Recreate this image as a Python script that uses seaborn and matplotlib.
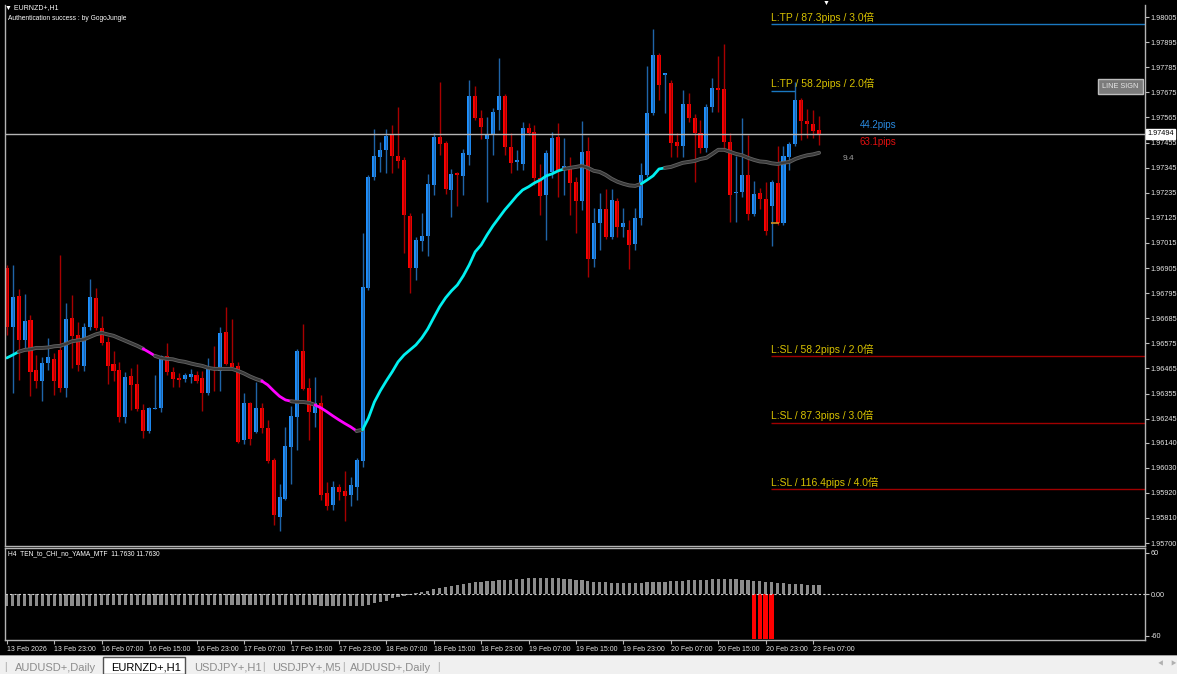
import numpy as np
import pandas as pd
import matplotlib
matplotlib.use("Agg")
import matplotlib.pyplot as plt
import matplotlib.patheffects as pe
from matplotlib.patches import Rectangle
import seaborn as sns

# EURNZD+ H1 candles, bar 0 = 13 Feb 15:00
opens = [1.96906, 1.96647, 1.96783, 1.96590, 1.96678, 1.96459, 1.96410, 1.96489, 1.96507, 1.96546,
         1.96380, 1.96687, 1.96612, 1.96476, 1.96647, 1.96774, 1.96643, 1.96581, 1.96485, 1.96459,
         1.96253, 1.96432, 1.96397, 1.96283, 1.96191, 1.96288, 1.96292, 1.96520, 1.96450, 1.96424,
         1.96419, 1.96428, 1.96437, 1.96424, 1.96358, 1.96472, 1.96454, 1.96625, 1.96489, 1.96476,
         1.96152, 1.96314, 1.96187, 1.96292, 1.96205, 1.96064, 1.95815, 1.95893, 1.96121, 1.96253,
         1.96542, 1.96380, 1.96270, 1.96314, 1.95920, 1.95867, 1.95946, 1.95928, 1.95911, 1.95946,
         1.96060, 1.96818, 1.97304, 1.97392, 1.97423, 1.97488, 1.97396, 1.97379, 1.97134, 1.96906,
         1.97024, 1.97046, 1.97269, 1.97480, 1.97453, 1.97247, 1.97322, 1.97309, 1.97401, 1.97659,
         1.97563, 1.97471, 1.97493, 1.97598, 1.97659, 1.97436, 1.97370, 1.97361, 1.97519, 1.97502,
         1.97300, 1.97226, 1.97326, 1.97480, 1.97335, 1.97344, 1.97283, 1.97199, 1.97418, 1.96945,
         1.97103, 1.97164, 1.97041, 1.97199, 1.97085, 1.97072, 1.97011, 1.97125, 1.97313, 1.97585,
         1.97839, 1.97751, 1.97716, 1.97458, 1.97440, 1.97624, 1.97563, 1.97497, 1.97431, 1.97611,
         1.97694, 1.97690, 1.97458, 1.97234, 1.97239, 1.97313, 1.97142, 1.97234, 1.97208, 1.97177,
         1.97278, 1.97103, 1.97392, 1.97449, 1.97642, 1.97550, 1.97537, 1.97510]
highs = [1.96919, 1.96919, 1.96814, 1.96792, 1.96700, 1.96524, 1.96516, 1.96599, 1.96533, 1.96963,
         1.96752, 1.96787, 1.96669, 1.96665, 1.96857, 1.96818, 1.96695, 1.96603, 1.96542, 1.96494,
         1.96450, 1.96467, 1.96485, 1.96310, 1.96297, 1.96437, 1.96524, 1.96577, 1.96472, 1.96446,
         1.96446, 1.96463, 1.96454, 1.96454, 1.96511, 1.96564, 1.96647, 1.96735, 1.96682, 1.96494,
         1.96358, 1.96318, 1.96406, 1.96314, 1.96240, 1.96073, 1.95959, 1.96209, 1.96301, 1.96551,
         1.96660, 1.96424, 1.96428, 1.96349, 1.95968, 1.95972, 1.95959, 1.96016, 1.95990, 1.96073,
         1.97059, 1.97313, 1.97515, 1.97458, 1.97515, 1.97532, 1.97611, 1.97392, 1.97147, 1.97041,
         1.97147, 1.97318, 1.97497, 1.97721, 1.97462, 1.97339, 1.97326, 1.97427, 1.97729, 1.97703,
         1.97598, 1.97567, 1.97607, 1.97826, 1.97668, 1.97497, 1.97423, 1.97545, 1.97541, 1.97532,
         1.97361, 1.97423, 1.97502, 1.97541, 1.97475, 1.97392, 1.97304, 1.97550, 1.97480, 1.97169,
         1.97234, 1.97252, 1.97252, 1.97212, 1.97169, 1.97116, 1.97169, 1.97366, 1.97791, 1.97953,
         1.97848, 1.97760, 1.97729, 1.97497, 1.97686, 1.97672, 1.97580, 1.97554, 1.97624, 1.97738,
         1.97835, 1.97887, 1.97497, 1.97396, 1.97563, 1.97488, 1.97287, 1.97256, 1.97283, 1.97291,
         1.97440, 1.97440, 1.97458, 1.97721, 1.97651, 1.97602, 1.97598, 1.97572]
lows = [1.96612, 1.96358, 1.96415, 1.96546, 1.96345, 1.96380, 1.96323, 1.96459, 1.96349, 1.96362,
        1.96340, 1.96467, 1.96454, 1.96454, 1.96634, 1.96634, 1.96568, 1.96397, 1.96410, 1.96231,
        1.96226, 1.96283, 1.96279, 1.96161, 1.96183, 1.96288, 1.96275, 1.96437, 1.96384, 1.96384,
        1.96406, 1.96402, 1.96402, 1.96279, 1.96349, 1.96367, 1.96367, 1.96481, 1.96467, 1.96139,
        1.96134, 1.96130, 1.96183, 1.96183, 1.96051, 1.95779, 1.95753, 1.95889, 1.95959, 1.96108,
        1.96371, 1.96152, 1.96209, 1.95889, 1.95845, 1.95845, 1.95889, 1.95797, 1.95863, 1.95889,
        1.96034, 1.96809, 1.97291, 1.97326, 1.97322, 1.97322, 1.97344, 1.96971, 1.96796, 1.96853,
        1.96980, 1.96958, 1.97226, 1.97401, 1.97230, 1.97129, 1.97177, 1.97226, 1.97357, 1.97554,
        1.97471, 1.97195, 1.97401, 1.97510, 1.97401, 1.97322, 1.97335, 1.97335, 1.97488, 1.97269,
        1.97138, 1.97028, 1.97300, 1.97217, 1.97226, 1.97138, 1.97059, 1.97160, 1.96866, 1.96910,
        1.96984, 1.97033, 1.97033, 1.97041, 1.97041, 1.96901, 1.96984, 1.97094, 1.97304, 1.97576,
        1.97642, 1.97585, 1.97392, 1.97392, 1.97392, 1.97545, 1.97283, 1.97410, 1.97414, 1.97589,
        1.97589, 1.97431, 1.97107, 1.97107, 1.97217, 1.97116, 1.97134, 1.97164, 1.97050, 1.97002,
        1.97094, 1.97094, 1.97335, 1.97440, 1.97466, 1.97475, 1.97475, 1.97445]
closes = [1.96647, 1.96779, 1.96590, 1.96673, 1.96450, 1.96410, 1.96489, 1.96516, 1.96410, 1.96380,
          1.96682, 1.96608, 1.96481, 1.96647, 1.96779, 1.96643, 1.96577, 1.96476, 1.96454, 1.96253,
          1.96428, 1.96393, 1.96288, 1.96191, 1.96292, 1.96292, 1.96520, 1.96450, 1.96419, 1.96415,
          1.96437, 1.96441, 1.96410, 1.96358, 1.96463, 1.96459, 1.96621, 1.96485, 1.96472, 1.96143,
          1.96314, 1.96156, 1.96292, 1.96205, 1.96060, 1.95823, 1.95902, 1.96126, 1.96257, 1.96542,
          1.96375, 1.96275, 1.96314, 1.95911, 1.95863, 1.95946, 1.95924, 1.95907, 1.95955, 1.96064,
          1.96822, 1.97304, 1.97396, 1.97423, 1.97484, 1.97396, 1.97374, 1.97138, 1.96906, 1.97028,
          1.97046, 1.97274, 1.97480, 1.97449, 1.97252, 1.97318, 1.97313, 1.97410, 1.97659, 1.97563,
          1.97523, 1.97488, 1.97589, 1.97659, 1.97436, 1.97366, 1.97379, 1.97519, 1.97497, 1.97300,
          1.97221, 1.97410, 1.97475, 1.97335, 1.97353, 1.97278, 1.97199, 1.97414, 1.96945, 1.97103,
          1.97164, 1.97041, 1.97204, 1.97085, 1.97103, 1.97006, 1.97125, 1.97313, 1.97585, 1.97839,
          1.97708, 1.97760, 1.97453, 1.97440, 1.97624, 1.97563, 1.97497, 1.97431, 1.97611, 1.97694,
          1.97686, 1.97458, 1.97226, 1.97239, 1.97313, 1.97142, 1.97230, 1.97208, 1.97068, 1.97283,
          1.97103, 1.97396, 1.97449, 1.97642, 1.97550, 1.97537, 1.97506, 1.97494]

# moving average line and its colour runs: u=rising, d=falling, f=flat
ma_line = [1.96511, 1.96524, 1.96538, 1.96546, 1.96549, 1.96555, 1.96555, 1.96557, 1.96562, 1.96564,
           1.96573, 1.96584, 1.96588, 1.96592, 1.96603, 1.96614, 1.96621, 1.96614, 1.96608, 1.96597,
           1.96586, 1.96575, 1.96564, 1.96551, 1.96536, 1.96520, 1.96511, 1.96507, 1.96505, 1.96498,
           1.96494, 1.96487, 1.96481, 1.96476, 1.96467, 1.96463, 1.96463, 1.96463, 1.96463, 1.96454,
           1.96443, 1.96430, 1.96419, 1.96410, 1.96393, 1.96367, 1.96343, 1.96327, 1.96321, 1.96318,
           1.96318, 1.96314, 1.96305, 1.96292, 1.96275, 1.96257, 1.96240, 1.96224, 1.96209, 1.96191,
           1.96196, 1.96248, 1.96318, 1.96367, 1.96410, 1.96450, 1.96494, 1.96524, 1.96546, 1.96568,
           1.96599, 1.96638, 1.96687, 1.96735, 1.96774, 1.96805, 1.96831, 1.96871, 1.96919, 1.96976,
           1.97006, 1.97050, 1.97090, 1.97125, 1.97160, 1.97190, 1.97221, 1.97247, 1.97261, 1.97278,
           1.97291, 1.97309, 1.97318, 1.97331, 1.97339, 1.97344, 1.97348, 1.97353, 1.97344, 1.97331,
           1.97326, 1.97313, 1.97296, 1.97283, 1.97274, 1.97267, 1.97265, 1.97274, 1.97291, 1.97309,
           1.97339, 1.97344, 1.97348, 1.97357, 1.97366, 1.97370, 1.97374, 1.97383, 1.97388, 1.97405,
           1.97423, 1.97423, 1.97414, 1.97405, 1.97399, 1.97388, 1.97379, 1.97372, 1.97370, 1.97364,
           1.97361, 1.97366, 1.97370, 1.97383, 1.97392, 1.97399, 1.97403, 1.97410]
trend_runs = [("u", 3), ("f", 21), ("d", 2), ("f", 18), ("d", 5), ("f", 4), ("d", 7), ("f", 1),
              ("u", 34), ("f", 13), ("u", 4), ("f", 26)]

# H4 TEN_to_CHI_no_YAMA_MTF histogram
histo = [-16.4, -16.4, -16.4, -16.4, -16.4, -16.4, -16.4, -16.4, -16.4, -16.4,
         -16.4, -16.4, -16.4, -16.4, -16.4, -16.4, -16, -16, -16, -16,
         -16, -16, -15, -15, -15, -15, -15, -15, -15, -15,
         -15, -15, -15, -15, -15, -15, -15, -15, -15, -15,
         -15, -15, -15, -15, -15, -15, -15, -15, -15, -15,
         -15.5, -15.5, -15.5, -16.4, -16.4, -16.4, -16.4, -16.4, -16.4, -16.4,
         -16.4, -15, -13, -11, -9, -6, -4, -2, -1, 1.5,
         3.5, 5.5, 7, 8.5, 10, 12, 14, 15.5, 16.5, 17.5,
         18, 19, 19.5, 20, 20.5, 21, 22, 22.5, 23, 23,
         23, 23, 23, 23, 22.5, 22, 21, 20, 19, 18.5,
         18, 17.5, 17, 17, 17, 17, 17, 17, 17.5, 17.5,
         18, 18.5, 19, 19, 19.5, 20, 20.5, 21, 21, 21.5,
         21.5, 21.5, 21.5, 21.5, 20.5, 20, 19.5, 19, 18, 17.5,
         17, 16, 15.5, 15, 14.5, 14, 14, 14]
signal_bars = [126, 127, 128, 129]
signal_vals = [-65, -65, -65, -65]

current_price = 1.97494
entry_bar = 129
entry_price = 1.97101
tp_prices = [1.97973, 1.97682]
tp_labels = ["L:TP / 87.3pips / 3.0倍", "L:TP / 58.2pips / 2.0倍"]
tp_end_bars = [None, 133]
sl_prices = [1.96518, 1.96227, 1.95936]
sl_labels = ["L:SL / 58.2pips / 2.0倍", "L:SL / 87.3pips / 3.0倍", "L:SL / 116.4pips / 4.0倍"]

price_ticks = [1.98005, 1.97895, 1.97785, 1.97675, 1.97565, 1.97455, 1.97345, 1.97235, 1.97125,
               1.97015, 1.96905, 1.96795, 1.96685, 1.96575, 1.96465, 1.96355, 1.96245, 1.96140,
               1.96030, 1.95920, 1.95810, 1.95700]
date_bars = [0, 8, 16, 24, 32, 40, 48, 56, 64, 72, 80, 88, 96, 104, 112, 120, 128, 136]
date_labels = ["13 Feb 2026", "13 Feb 23:00", "16 Feb 07:00", "16 Feb 15:00", "16 Feb 23:00",
               "17 Feb 07:00", "17 Feb 15:00", "17 Feb 23:00", "18 Feb 07:00", "18 Feb 15:00",
               "18 Feb 23:00", "19 Feb 07:00", "19 Feb 15:00", "19 Feb 23:00", "20 Feb 07:00",
               "20 Feb 15:00", "20 Feb 23:00", "23 Feb 07:00"]
tabs = ["AUDUSD+,Daily", "EURNZD+,H1", "USDJPY+,H1", "USDJPY+,M5", "AUDUSD+,Daily"]

sns.set_style("dark", {"axes.facecolor": "black", "figure.facecolor": "black"})
plt.rcParams['font.family'] = ['Liberation Sans', 'Noto Sans CJK JP', 'DejaVu Sans']

W, H = 1177, 674
fig = plt.figure(figsize=(W / 100, H / 100), dpi=100, facecolor='black')


def fx(px):
    return px / W


def fy(py):
    return 1 - py / H


ax = fig.add_axes([fx(5), fy(546), fx(1145) - fx(5), fy(5) - fy(546)])
sub = fig.add_axes([fx(5), fy(640), fx(1145) - fx(5), fy(548) - fy(640)])

df = pd.DataFrame({"open": opens, "high": highs, "low": lows, "close": closes, "ma": ma_line})
df["bar"] = np.arange(len(df))
up = df["close"] >= df["open"]

# candles
ax.vlines(df["bar"], df["low"], df["high"], colors=np.where(up, "#1f64a8", "#a80000"), lw=1)
body = np.maximum((df["close"] - df["open"]).abs(), 0.00004)
ax.bar(df["bar"], body, bottom=np.minimum(df["open"], df["close"]), width=0.68,
       color=np.where(up, "#1e90ff", "#ff0000"), linewidth=0)

# moving average, coloured by slope
ma_colors = {"u": "#00f0f0", "d": "#ff00ff", "f": "#3a3a3a"}
pos = 0
for code, n in trend_runs:
    a = max(pos - 1, 0)
    b = pos + n - 1
    seg = df.iloc[a:b + 1]
    effects = [pe.Stroke(linewidth=2.8, foreground="#646464"), pe.Normal()] if code == "f" else None
    sns.lineplot(x=seg["bar"].to_numpy(), y=seg["ma"].to_numpy(), ax=ax, color=ma_colors[code],
                 lw=2 if code != "f" else 1.6, estimator=None, path_effects=effects)
    pos += n

# price line and order lines
ax.axhline(current_price, color="#b4b4b4", lw=1)
xmax = 191.97
for p, lab, end in zip(tp_prices, tp_labels, tp_end_bars):
    ax.hlines(p, entry_bar - 0.1, xmax if end is None else end, color="#1a78c0", lw=1)
    ax.annotate(lab, (entry_bar - 0.1, p), xytext=(0, 2.5), textcoords="offset points",
                color="#d7c100", fontsize=7.5, va="baseline")
for p, lab in zip(sl_prices, sl_labels):
    ax.hlines(p, entry_bar - 0.1, xmax, color="#a00000", lw=1)
    ax.annotate(lab, (entry_bar - 0.1, p), xytext=(0, 2.5), textcoords="offset points",
                color="#d7c100", fontsize=7.5, va="baseline")
ax.hlines(entry_price, entry_bar - 0.1, entry_bar + 1.2, color="#d09020", lw=1.2)

ax.annotate("44.2pips", (143.9, current_price), xytext=(0, 6), textcoords="offset points",
            color="#2a8ae0", fontsize=7, va="center")
ax.annotate("63.1pips", (143.9, current_price), xytext=(0, -5.8), textcoords="offset points",
            color="#e01010", fontsize=7, va="center")
ax.annotate("9.4", (141, ma_line[-1]), xytext=(0, -4), textcoords="offset points",
            color="#a0a0a0", fontsize=6, va="center")

ax.set_xlim(-0.30, xmax)
ax.set_ylim(1.956869, 1.980576)
ax.grid(False)
ax.set_xticks([])
ax.yaxis.tick_right()
ax.set_yticks(price_ticks)
ax.set_yticklabels([f"{p:.5f}" for p in price_ticks])
ax.tick_params(axis="y", right=True, left=False, labelright=True, labelleft=False, length=3,
               width=0.8, color="#c0c0c0", labelcolor="#e6e6e6", labelsize=5.2, pad=1)
ax.text(1.002, current_price, f"{current_price:.5f}", transform=ax.get_yaxis_transform(),
        ha="left", va="center", fontsize=5.2, color="black",
        bbox=dict(boxstyle="square,pad=0.2", fc="white", ec="white"))
for side in ["left", "right", "bottom"]:
    ax.spines[side].set_color("#b4b4b4")
    ax.spines[side].set_linewidth(1)
ax.spines["top"].set_visible(False)

# sub window histogram
sub.bar(df["bar"], histo, width=0.55, color="#8c8c8c", linewidth=0)
sub.bar(signal_bars, signal_vals, width=0.75, color="#ff0000", linewidth=0)
sub.axhline(0, color="#d0d0d0", lw=0.8, ls=(0, (2, 2)))
sub.set_xlim(-0.30, xmax)
sub.set_ylim(-66, 66.9)
sub.grid(False)
sub.yaxis.tick_right()
sub.set_yticks([60, 0, -60])
sub.set_yticklabels(["60", "0.00", "-60"])
sub.tick_params(axis="y", right=True, left=False, labelright=True, labelleft=False, length=3,
                width=0.8, color="#c0c0c0", labelcolor="#e6e6e6", labelsize=5.2, pad=1)
sub.set_xticks(date_bars)
sub.set_xticklabels(date_labels, ha="left")
sub.tick_params(axis="x", bottom=True, length=3, width=0.8, color="#b4b4b4",
                labelcolor="#e6e6e6", labelsize=5, pad=1.5)
for side in sub.spines:
    sub.spines[side].set_color("#b4b4b4")
    sub.spines[side].set_linewidth(1)

# header texts
fig.text(fx(5), fy(8), "▼ EURNZD+,H1", fontsize=5, color="white", va="center")
fig.text(fx(8), fy(18), "Authentication success : by GogoJungle", fontsize=4.8, color="white", va="center")
fig.text(fx(8), fy(554), "H4  TEN_to_CHI_no_YAMA_MTF  11.7630 11.7630", fontsize=4.8,
         color="white", va="center")
fig.text(fx(826), fy(3), "▼", fontsize=5, color="white", ha="center", va="center")
fig.text(fx(1120.5), fy(86.5), "LINE SIGN", fontsize=5.3, color="#e8e8e8", ha="center", va="center",
         bbox=dict(boxstyle="square,pad=0.6", fc="#7b7b7b", ec="#bdbdbd", lw=1))

# tab strip
fig.add_artist(Rectangle((0, 0), 1, 18 / H, transform=fig.transFigure, fc="#f0f0f0", ec="none"))
fig.add_artist(Rectangle((0, 18 / H), 1, 1 / H, transform=fig.transFigure, fc="#a0a0a0", ec="none"))
fig.add_artist(Rectangle((fx(103), 0), fx(185) - fx(103), 17 / H, transform=fig.transFigure,
                         fc="white", ec="#505050", lw=1))
tab_x = [15, 111, 194, 272, 350]
for i, (t, x) in enumerate(zip(tabs, tab_x)):
    fig.text(fx(x), fy(671), t, fontsize=8, color="black" if i == 1 else "#8c8c8c", va="baseline")
for x in [4, 262, 342, 437]:
    fig.text(fx(x), fy(670), "|", fontsize=7, color="#a0a0a0", va="baseline")
fig.text(fx(1160), fy(664), "◀", fontsize=4, color="#b0b0b0", ha="center", va="center")
fig.text(fx(1173), fy(664), "▶", fontsize=4, color="#b0b0b0", ha="center", va="center")

fig.savefig("out.png", dpi=100, facecolor="black")
